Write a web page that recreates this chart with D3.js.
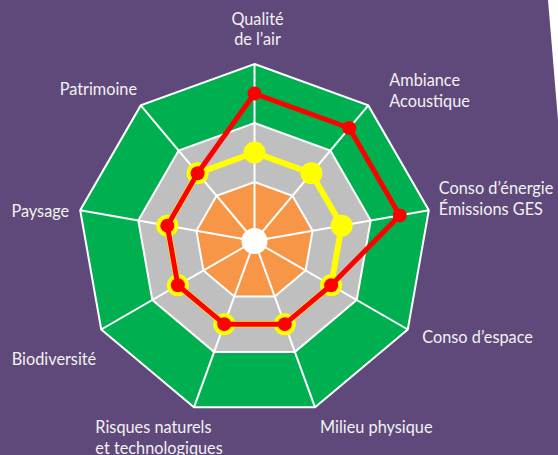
<!DOCTYPE html>
<html><head><meta charset="utf-8">
<script src="https://cdn.jsdelivr.net/npm/d3@7"></script>
<style>html,body{margin:0;padding:0;background:#5F497A;overflow:hidden}</style>
</head><body>
<svg id="chart" width="558" height="455"></svg>
<script>
// ---- data ----
const categories = [
  ["Qualité", "de l’air"],
  ["Ambiance", "Acoustique"],
  ["Conso d’énergie", "Émissions GES"],
  ["Conso d’espace"],
  ["Milieu physique"],
  ["Risques naturels", "et technologiques"],
  ["Biodiversité"],
  ["Paysage"],
  ["Patrimoine"]
];
const redValues    = [2.5, 2.5, 2.5, 1.5, 1.5, 1.5, 1.5, 1.5, 1.5];
const yellowValues = [1.5, 1.5, 1.5, 1.5, 1.5, 1.5, 1.5, 1.5, 1.5];
const levels = [3, 2, 1];

// ---- layout (kept apart from data) ----
const W = 558, H = 455;
const cx = 254.5, cy = 241, R = 177;
const levelColors = {3: "#00B050", 2: "#BFBFBF", 1: "#F79646"};
// label offsets from outer vertex: [dx, dy of first line center, anchor]
const labelLayout = [
  [3, -45, "middle"],
  [21, -25, "start"],
  [10, -22, "start"],
  [14.5, 7.5, "start"],
  [5, 20, "start"],
  [-98.6, 20, "start"],
  [-5, 29.5, "end"],
  [-11, 1, "end"],
  [-3.7, -16, "end"]
];
const lineH = 20.7;

const svg = d3.select("#chart");
svg.append("rect").attr("width", W).attr("height", H).attr("fill", "#5F497A");
svg.append("path").attr("d", "M548,0L558,0L558,120Z").attr("fill", "#ffffff");

const n = categories.length;
const angle = d3.scaleLinear().domain([0, n]).range([0, 2 * Math.PI]);
const r = d3.scaleLinear().domain([0, 3]).range([0, R]);
const g = svg.append("g").attr("transform", `translate(${cx},${cy})`);

const radial = d3.lineRadial()
  .angle((d, i) => angle(i))
  .radius(d => r(d))
  .curve(d3.curveLinearClosed);

// rings
levels.forEach(l => {
  g.append("path")
    .attr("d", radial(d3.range(n).map(() => l)))
    .attr("fill", levelColors[l])
    .attr("stroke", "#ffffff")
    .attr("stroke-width", 2)
    .attr("stroke-linejoin", "miter");
});
// spokes
g.selectAll("line.spoke").data(d3.range(n)).join("line")
  .attr("class", "spoke")
  .attr("x1", 0).attr("y1", 0)
  .attr("x2", i => r(3) * Math.sin(angle(i)))
  .attr("y2", i => -r(3) * Math.cos(angle(i)))
  .attr("stroke", "#ffffff").attr("stroke-width", 2);
g.append("circle").attr("r", 13).attr("fill", "#ffffff");

function drawSeries(vals, color, lw, mr) {
  g.append("path")
    .attr("d", radial(vals))
    .attr("fill", "none").attr("stroke", color)
    .attr("stroke-width", lw).attr("stroke-linejoin", "round");
  g.selectAll(null).data(vals).join("circle")
    .attr("cx", (d, i) => r(d) * Math.sin(angle(i)))
    .attr("cy", (d, i) => -r(d) * Math.cos(angle(i)))
    .attr("r", mr).attr("fill", color);
}
drawSeries(yellowValues, "#FFFF00", 6, 11);
drawSeries(redValues, "#FF0000", 5, 7);

// labels
categories.forEach((lines, i) => {
  const vx = cx + R * Math.sin(angle(i));
  const vy = cy - R * Math.cos(angle(i));
  const [dx, dy, anchor] = labelLayout[i];
  const t = svg.append("text")
    .attr("text-anchor", anchor)
    .attr("fill", "#F2F2F2")
    .style("font-family", "Lato, 'Open Sans', sans-serif")
    .style("font-size", "16.3px");
  lines.forEach((s, k) => {
    t.append("tspan")
      .attr("x", vx + dx)
      .attr("y", vy + dy + k * lineH)
      .attr("dy", "0.35em")
      .text(s);
  });
});
</script>
</body></html>
